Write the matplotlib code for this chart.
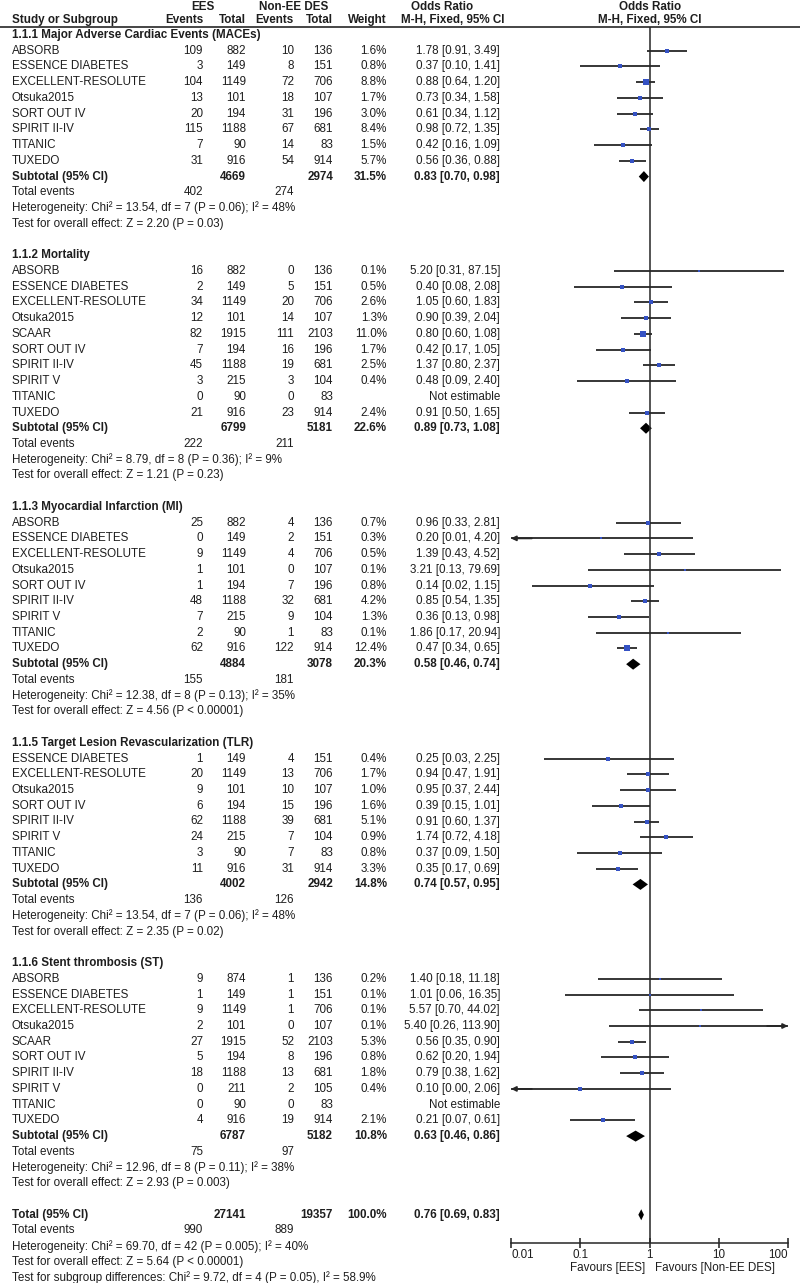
import matplotlib
matplotlib.use('Agg')
import matplotlib.pyplot as plt
import numpy as np

plt.rcParams['font.family'] = ['Liberation Sans', 'DejaVu Sans']

# ---- data ----
groups = ['1.1.1 Major Adverse Cardiac Events (MACEs)', '1.1.2 Mortality',
          '1.1.3 Myocardial Infarction (MI)', '1.1.5 Target Lesion Revascularization (TLR)',
          '1.1.6 Stent thrombosis (ST)']

studies = [
    ['ABSORB', 'ESSENCE DIABETES', 'EXCELLENT-RESOLUTE', 'Otsuka2015', 'SORT OUT IV',
     'SPIRIT II-IV', 'TITANIC', 'TUXEDO'],
    ['ABSORB', 'ESSENCE DIABETES', 'EXCELLENT-RESOLUTE', 'Otsuka2015', 'SCAAR', 'SORT OUT IV',
     'SPIRIT II-IV', 'SPIRIT V', 'TITANIC', 'TUXEDO'],
    ['ABSORB', 'ESSENCE DIABETES', 'EXCELLENT-RESOLUTE', 'Otsuka2015', 'SORT OUT IV',
     'SPIRIT II-IV', 'SPIRIT V', 'TITANIC', 'TUXEDO'],
    ['ESSENCE DIABETES', 'EXCELLENT-RESOLUTE', 'Otsuka2015', 'SORT OUT IV', 'SPIRIT II-IV',
     'SPIRIT V', 'TITANIC', 'TUXEDO'],
    ['ABSORB', 'ESSENCE DIABETES', 'EXCELLENT-RESOLUTE', 'Otsuka2015', 'SCAAR', 'SORT OUT IV',
     'SPIRIT II-IV', 'SPIRIT V', 'TITANIC', 'TUXEDO'],
]
ees_events = [[109, 3, 104, 13, 20, 115, 7, 31],
              [16, 2, 34, 12, 82, 7, 45, 3, 0, 21],
              [25, 0, 9, 1, 1, 48, 7, 2, 62],
              [1, 20, 9, 6, 62, 24, 3, 11],
              [9, 1, 9, 2, 27, 5, 18, 0, 0, 4]]
ees_total = [[882, 149, 1149, 101, 194, 1188, 90, 916],
             [882, 149, 1149, 101, 1915, 194, 1188, 215, 90, 916],
             [882, 149, 1149, 101, 194, 1188, 215, 90, 916],
             [149, 1149, 101, 194, 1188, 215, 90, 916],
             [874, 149, 1149, 101, 1915, 194, 1188, 211, 90, 916]]
ctl_events = [[10, 8, 72, 18, 31, 67, 14, 54],
              [0, 5, 20, 14, 111, 16, 19, 3, 0, 23],
              [4, 2, 4, 0, 7, 32, 9, 1, 122],
              [4, 13, 10, 15, 39, 7, 7, 31],
              [1, 1, 1, 0, 52, 8, 13, 2, 0, 19]]
ctl_total = [[136, 151, 706, 107, 196, 681, 83, 914],
             [136, 151, 706, 107, 2103, 196, 681, 104, 83, 914],
             [136, 151, 706, 107, 196, 681, 104, 83, 914],
             [151, 706, 107, 196, 681, 104, 83, 914],
             [136, 151, 706, 107, 2103, 196, 681, 105, 83, 914]]
weights = [[1.6, 0.8, 8.8, 1.7, 3.0, 8.4, 1.5, 5.7],
           [0.1, 0.5, 2.6, 1.3, 11.0, 1.7, 2.5, 0.4, None, 2.4],
           [0.7, 0.3, 0.5, 0.1, 0.8, 4.2, 1.3, 0.1, 12.4],
           [0.4, 1.7, 1.0, 1.6, 5.1, 0.9, 0.8, 3.3],
           [0.2, 0.1, 0.1, 0.1, 5.3, 0.8, 1.8, 0.4, None, 2.1]]
odds = [[1.78, 0.37, 0.88, 0.73, 0.61, 0.98, 0.42, 0.56],
        [5.20, 0.40, 1.05, 0.90, 0.80, 0.42, 1.37, 0.48, None, 0.91],
        [0.96, 0.20, 1.39, 3.21, 0.14, 0.85, 0.36, 1.86, 0.47],
        [0.25, 0.94, 0.95, 0.39, 0.91, 1.74, 0.37, 0.35],
        [1.40, 1.01, 5.57, 5.40, 0.56, 0.62, 0.79, 0.10, None, 0.21]]
ci_low = [[0.91, 0.10, 0.64, 0.34, 0.34, 0.72, 0.16, 0.36],
          [0.31, 0.08, 0.60, 0.39, 0.60, 0.17, 0.80, 0.09, None, 0.50],
          [0.33, 0.01, 0.43, 0.13, 0.02, 0.54, 0.13, 0.17, 0.34],
          [0.03, 0.47, 0.37, 0.15, 0.60, 0.72, 0.09, 0.17],
          [0.18, 0.06, 0.70, 0.26, 0.35, 0.20, 0.38, 0.00, None, 0.07]]
ci_high = [[3.49, 1.41, 1.20, 1.58, 1.12, 1.35, 1.09, 0.88],
           [87.15, 2.08, 1.83, 2.04, 1.08, 1.05, 2.37, 2.40, None, 1.65],
           [2.81, 4.20, 4.52, 79.69, 1.15, 1.35, 0.98, 20.94, 0.65],
           [2.25, 1.91, 2.44, 1.01, 1.37, 4.18, 1.50, 0.69],
           [11.18, 16.35, 44.02, 113.90, 0.90, 1.94, 1.62, 2.06, None, 0.61]]

sub_ees_total = [4669, 6799, 4884, 4002, 6787]
sub_ctl_total = [2974, 5181, 3078, 2942, 5182]
sub_weight = [31.5, 22.6, 20.3, 14.8, 10.8]
sub_or = [0.83, 0.89, 0.58, 0.74, 0.63]
sub_low = [0.70, 0.73, 0.46, 0.57, 0.46]
sub_high = [0.98, 1.08, 0.74, 0.95, 0.86]
sub_ees_events = [402, 222, 155, 136, 75]
sub_ctl_events = [274, 211, 181, 126, 97]
heterogeneity = ['Heterogeneity: Chi² = 13.54, df = 7 (P = 0.06); I² = 48%',
                 'Heterogeneity: Chi² = 8.79, df = 8 (P = 0.36); I² = 9%',
                 'Heterogeneity: Chi² = 12.38, df = 8 (P = 0.13); I² = 35%',
                 'Heterogeneity: Chi² = 13.54, df = 7 (P = 0.06); I² = 48%',
                 'Heterogeneity: Chi² = 12.96, df = 8 (P = 0.11); I² = 38%']
overall = ['Test for overall effect: Z = 2.20 (P = 0.03)',
           'Test for overall effect: Z = 1.21 (P = 0.23)',
           'Test for overall effect: Z = 4.56 (P < 0.00001)',
           'Test for overall effect: Z = 2.35 (P = 0.02)',
           'Test for overall effect: Z = 2.93 (P = 0.003)']

total_ees, total_ctl, total_weight = 27141, 19357, 100.0
total_or, total_low, total_high = 0.76, 0.69, 0.83
total_ees_events, total_ctl_events = 990, 889
total_notes = ['Heterogeneity: Chi² = 69.70, df = 42 (P = 0.005); I² = 40%',
               'Test for overall effect: Z = 5.64 (P < 0.00001)',
               'Test for subgroup differences: Chi² = 9.72, df = 4 (P = 0.05), I² = 58.9%']
ticks = [0.01, 0.1, 1, 10, 100]

# ---- layout (pixels) ----
W, H = 800, 1283
FS = 8.4
TXT = '#1e1e1e'
LINE = '#262626'
Y0, PITCH = 35, 15.73
RULE_Y, AXIS_Y = 27, 1243
X_NAME, X_EV1, X_TOT1, X_EV2, X_TOT2, X_W, X_OR = 12, 203, 246, 294, 333, 387, 500
PX0, PX1 = 511, 788

fig = plt.figure(figsize=(W / 100, H / 100), dpi=100)
tx = fig.add_axes([0, 0, 1, 1])
tx.set_xlim(0, W)
tx.set_ylim(H, 0)
tx.axis('off')

ax = fig.add_axes([PX0 / W, 1 - AXIS_Y / H, (PX1 - PX0) / W, (AXIS_Y - RULE_Y) / H])
ax.set_xscale('log')
ax.set_xlim(0.01, 100)
ax.set_ylim(AXIS_Y, RULE_Y)
ax.patch.set_alpha(0)
for s in ['top', 'left', 'right']:
    ax.spines[s].set_visible(False)
ax.spines['bottom'].set_linewidth(1.1)
ax.spines['bottom'].set_color(LINE)
ax.set_yticks([])
ax.set_xticks(ticks)
ax.set_xticklabels(['0.01', '0.1', '1', '10', '100'])
ax.minorticks_off()
ax.tick_params(axis='x', direction='inout', length=7, width=1.1, labelsize=FS,
               colors=TXT, pad=1)
labs = ax.get_xticklabels()
labs[0].set_ha('left')
labs[-1].set_ha('right')
ax.axvline(1, color=LINE, lw=1.1)


def t(x, y, s, ha='right', bold=False):
    tx.text(x, y, s, ha=ha, va='center', fontsize=FS, color=TXT,
            fontweight='bold' if bold else 'normal')


def diamond(y, m, lo, hi):
    ax.fill([lo, m, hi, m], [y, y - 5.5, y, y + 5.5], color='black', lw=0)


# headers
t(X_EV1, 7, 'EES', ha='center', bold=True)
t(X_EV2, 7, 'Non-EE DES', ha='center', bold=True)
t(442, 7, 'Odds Ratio', ha='center', bold=True)
t(650, 7, 'Odds Ratio', ha='center', bold=True)
t(X_NAME, 20, 'Study or Subgroup', ha='left', bold=True)
for x, s in [(X_EV1, 'Events'), (X_TOT1, 'Total'), (X_EV2, 'Events'), (X_TOT2, 'Total'), (X_W, 'Weight')]:
    t(x, 20, s, bold=True)
t(453, 20, 'M-H, Fixed, 95% CI', ha='center', bold=True)
t(650, 20, 'M-H, Fixed, 95% CI', ha='center', bold=True)
tx.plot([0, W], [RULE_Y, RULE_Y], color=LINE, lw=1.2)

row = 0
for g in range(len(groups)):
    y = Y0 + row * PITCH
    t(X_NAME, y, groups[g], ha='left', bold=True)
    row += 1
    for i, name in enumerate(studies[g]):
        y = Y0 + row * PITCH
        t(X_NAME, y, name, ha='left')
        t(X_EV1, y, str(ees_events[g][i]))
        t(X_TOT1, y, str(ees_total[g][i]))
        t(X_EV2, y, str(ctl_events[g][i]))
        t(X_TOT2, y, str(ctl_total[g][i]))
        m, lo, hi, w = odds[g][i], ci_low[g][i], ci_high[g][i], weights[g][i]
        if m is None:
            t(X_OR, y, 'Not estimable')
        else:
            t(X_W, y, f'{w:.1f}%')
            t(X_OR, y, f'{m:.2f} [{lo:.2f}, {hi:.2f}]')
            l2, h2 = max(lo, 0.01), min(hi, 100)
            ax.plot([l2, h2], [y, y], color=LINE, lw=1.3, solid_capstyle='butt')
            if lo <= 0.01:
                ax.annotate('', xy=(0.01, y), xytext=(0.02, y),
                            arrowprops=dict(arrowstyle='-|>', color=LINE, lw=1.3,
                                            mutation_scale=7, shrinkA=0, shrinkB=0))
            if hi > 100:
                ax.annotate('', xy=(100, y), xytext=(50, y),
                            arrowprops=dict(arrowstyle='-|>', color=LINE, lw=1.3,
                                            mutation_scale=7, shrinkA=0, shrinkB=0))
            ms = (2.5 + 0.85 * np.sqrt(w)) * 0.72
            ax.plot(m, y, 's', color='#3552c4', ms=ms, mew=0, zorder=3)
        row += 1
    y = Y0 + row * PITCH
    t(X_NAME, y, 'Subtotal (95% CI)', ha='left', bold=True)
    t(X_TOT1, y, str(sub_ees_total[g]), bold=True)
    t(X_TOT2, y, str(sub_ctl_total[g]), bold=True)
    t(X_W, y, f'{sub_weight[g]:.1f}%', bold=True)
    t(X_OR, y, f'{sub_or[g]:.2f} [{sub_low[g]:.2f}, {sub_high[g]:.2f}]', bold=True)
    diamond(y, sub_or[g], sub_low[g], sub_high[g])
    row += 1
    y = Y0 + row * PITCH
    t(X_NAME, y, 'Total events', ha='left')
    t(X_EV1, y, str(sub_ees_events[g]))
    t(X_EV2, y, str(sub_ctl_events[g]))
    row += 1
    t(X_NAME, Y0 + row * PITCH, heterogeneity[g], ha='left')
    row += 1
    t(X_NAME, Y0 + row * PITCH, overall[g], ha='left')
    row += 2

y = Y0 + row * PITCH
t(X_NAME, y, 'Total (95% CI)', ha='left', bold=True)
t(X_TOT1, y, str(total_ees), bold=True)
t(X_TOT2, y, str(total_ctl), bold=True)
t(X_W, y, f'{total_weight:.1f}%', bold=True)
t(X_OR, y, f'{total_or:.2f} [{total_low:.2f}, {total_high:.2f}]', bold=True)
diamond(y, total_or, total_low, total_high)
row += 1
y = Y0 + row * PITCH
t(X_NAME, y, 'Total events', ha='left')
t(X_EV1, y, str(total_ees_events))
t(X_EV2, y, str(total_ctl_events))
for note in total_notes:
    row += 1
    t(X_NAME, Y0 + row * PITCH, note, ha='left')

t(645, 1268, 'Favours [EES]')
t(655, 1268, 'Favours [Non-EE DES]', ha='left')

fig.savefig('out.png', dpi=100)
